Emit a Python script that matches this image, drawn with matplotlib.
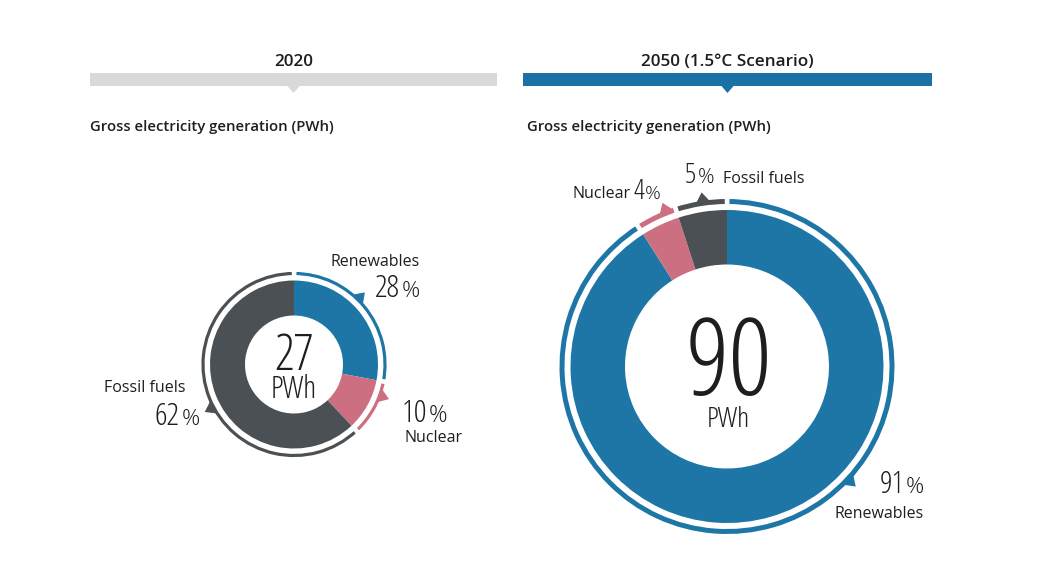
import matplotlib
matplotlib.use("Agg")
import matplotlib.pyplot as plt
from matplotlib.patches import Rectangle, Polygon
import numpy as np

# ---------------- data ----------------
categories = ["Renewables", "Nuclear", "Fossil fuels"]
share_2020 = [28, 10, 62]
share_2050 = [91, 4, 5]
total_2020 = 27
total_2050 = 90
panel_titles = ["2020", "2050 (1.5°C Scenario)"]
subtitle = "Gross electricity generation (PWh)"
unit = "PWh"

# ---------------- style ----------------
W, H = 1043, 571
C_REN = "#1e76a7"
C_NUC = "#cc6f80"
C_FOS = "#4a5054"
C_TXT = "#1e1e1e"
colors = [C_REN, C_NUC, C_FOS]

LAB = dict(family=["Open Sans", "DejaVu Sans"], weight="normal", color=C_TXT)
NUM = dict(family=["Open Sans", "DejaVu Sans"], stretch="condensed", weight="light", color=C_TXT)
PCT = dict(family=["Open Sans", "DejaVu Sans"], weight="light", color=C_TXT)
HDR = dict(family=["Open Sans", "DejaVu Sans"], weight="semibold", color=C_TXT)

fig = plt.figure(figsize=(W / 100, H / 100), dpi=100)
ax = fig.add_axes([0, 0, 1, 1])


def Y(y):
    return H - y


def donut(cx, cy, r_out, r_in, ring_r, ring_w, values, ptr_angles):
    ax.pie(values, colors=colors, startangle=90, counterclock=False,
           radius=r_out, center=(cx, Y(cy)),
           wedgeprops=dict(width=r_out - r_in, linewidth=0))
    gap = 4.5
    ax.pie(values, colors=colors, startangle=90, counterclock=False,
           radius=ring_r + ring_w / 2 + gap / 2, center=(cx, Y(cy)),
           wedgeprops=dict(width=ring_w + gap, edgecolor="white",
                           linewidth=gap * 72 / 100))
    return (cx, cy, ring_r + ring_w / 2, ptr_angles)


def pointers(spec):
    cx, cy, r_edge, angs = spec
    for a, col in zip(angs, colors):
        th = np.deg2rad(90 - a)
        u = np.array([np.cos(th), np.sin(th)])
        t = np.array([-np.sin(th), np.cos(th)])
        c = np.array([cx, Y(cy)])
        base = c + (r_edge - 1.5) * u
        tip = c + (r_edge + 8.5) * u
        poly = [base + 7 * t, base - 7 * t, tip]
        ax.add_patch(Polygon(poly, closed=True, color=col, lw=0, zorder=5))


specs = []
specs.append(donut(294, 364.5, 84, 49, 91, 3.2, share_2020, [44.5, 110, 242]))
specs.append(donut(727, 366.5, 156.5, 102, 165, 5, share_2050, [133, 338.5, 351.7]))

ax.set_xlim(0, W)
ax.set_ylim(0, H)
ax.set_aspect("auto")
ax.axis("off")

for s in specs:
    pointers(s)

# ---------------- headers ----------------
bars = [(90, 497, "#d9d9d9", 90), (523, 932, "#1a71a3", 527)]
for (x0, x1, col, xs), title in zip(bars, panel_titles):
    ax.add_patch(Rectangle((x0, Y(86)), x1 - x0, 13, color=col, lw=0))
    xm = (x0 + x1) / 2
    ax.add_patch(Polygon([(xm - 6.5, Y(85.5)), (xm + 6.5, Y(85.5)), (xm, Y(93))],
                         closed=True, color=col, lw=0))
    ax.text(xm, Y(66), title, ha="center", va="baseline", fontsize=12.3, **HDR)
    ax.text(xs, Y(131), subtitle, ha="left", va="baseline", fontsize=10.7, **HDR)

renderer = fig.canvas.get_renderer()


def pct(x, y, value, size):
    t = ax.text(x, Y(y), str(value), ha="left", va="baseline", fontsize=size, **NUM)
    bb = t.get_window_extent(renderer)
    x1 = ax.transData.inverted().transform((bb.x1, bb.y0))[0]
    ax.text(x1 + 1.5, Y(y), "%", ha="left", va="baseline", fontsize=size * 0.72, **PCT)


def label(x, y, s):
    ax.text(x, Y(y), s, ha="left", va="baseline", fontsize=11.5, **LAB)


# 2020 labels
label(330, 266, categories[0])
pct(375, 296.7, share_2020[0], 22.5)
pct(401.7, 421.7, share_2020[1], 23)
label(404, 441.7, categories[1])
label(104, 391.7, categories[2])
pct(155, 425, share_2020[2], 22.5)
ax.text(293.5, Y(370), str(total_2020), ha="center", va="baseline", fontsize=35.5, **NUM)
ax.text(293.5, Y(398.3), unit, ha="center", va="baseline", fontsize=22, **NUM)

# 2050 labels
label(572.7, 198.3, categories[1])
pct(633, 199.3, share_2050[1], 19.5)
pct(685, 183.3, share_2050[2], 20.5)
label(722.7, 183.3, categories[2])
pct(879.3, 493.3, share_2050[0], 22.5)
label(835, 518.3, categories[0])
ax.text(729, Y(395), str(total_2050), ha="center", va="baseline", fontsize=78, **NUM)
ax.text(728, Y(426.7), unit, ha="center", va="baseline", fontsize=20.5, **NUM)

fig.savefig("out.png", dpi=100, facecolor="white")
